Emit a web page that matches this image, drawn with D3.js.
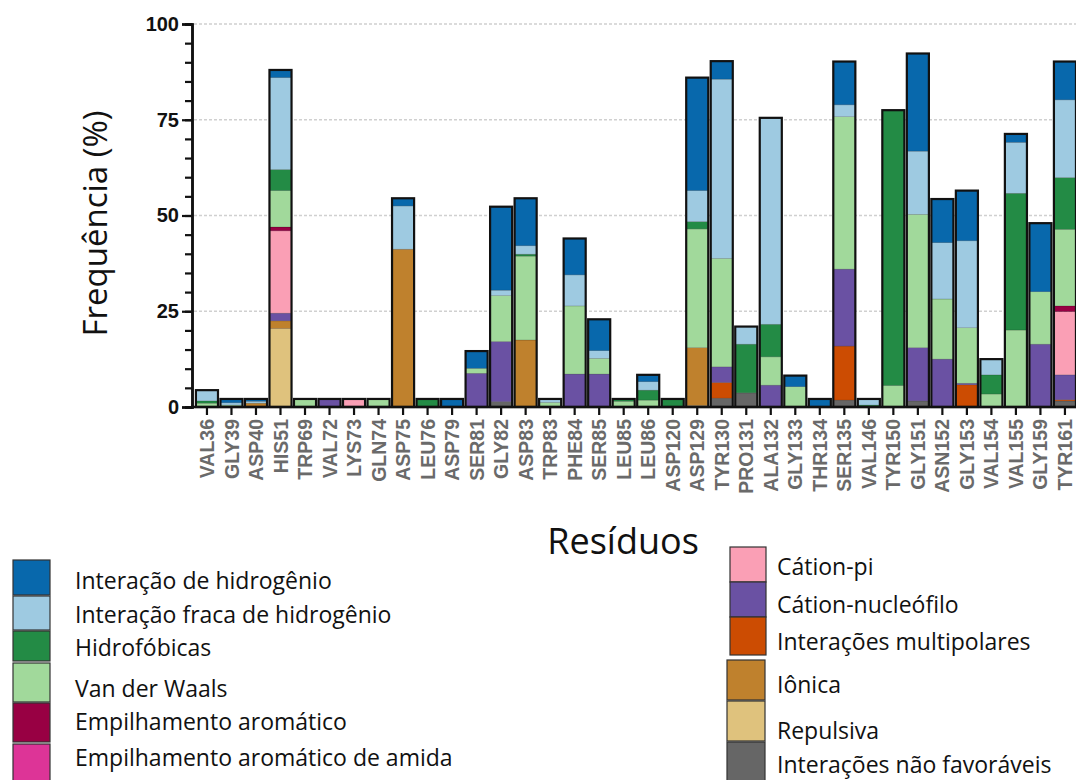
<!DOCTYPE html>
<html>
<head>
<meta charset="utf-8">
<script src="https://cdn.jsdelivr.net/npm/d3@7"></script>
<style>
  html, body { margin: 0; padding: 0; background: #fff; }
  svg { display: block; }
</style>
</head>
<body>
<svg id="chart" width="1076" height="780"></svg>
<script>
// Residues along the x axis
const residues = ["VAL36","GLY39","ASP40","HIS51","TRP69","VAL72","LYS73","GLN74","ASP75","LEU76",
  "ASP79","SER81","GLY82","ASP83","TRP83","PHE84","SER85","LEU85","LEU86","ASP120",
  "ASP129","TYR130","PRO131","ALA132","GLY133","THR134","SER135","VAL146","TYR150","GLY151",
  "ASN152","GLY153","VAL154","VAL155","GLY159","TYR161"];

// Interaction frequency (%) per residue, one array per interaction type
const hidrogenio       = [0,1.0,0.6,2.0,0,0,0,0,2.0,0,2.1,4.5,21.8,12.4,0,9.5,8.2,0,1.8,0,29.5,4.7,0,0,2.9,2.1,11.3,0,0,25.5,11.4,13.1,0,2.2,17.9,10.0];
const fracaHidrogenio  = [2.8,0.6,0.5,24.0,0,0,0,0,11.3,0,0,0,1.4,2.2,0.9,8.1,2.0,0,2.2,0,8.1,46.8,4.6,53.9,0,0,3.1,1.6,0,16.5,14.7,22.7,4.1,13.3,0,20.3];
const hidrofobicas     = [0.6,0,0,5.5,0,0,0,0,0,2.1,0,0,0,0.5,0,0,0,0.6,2.6,2.1,1.9,0,12.7,8.5,0,0,0,0.5,71.9,0,0,0,5.0,35.7,0,13.5];
const vanDerWaals      = [1.0,0.5,0,9.5,2.1,0,0,2.1,0,0,0,1.3,12.0,21.9,1.2,17.8,4.1,1.5,1.8,0,31.0,28.3,0,7.4,5.3,0,39.8,0,5.6,34.8,15.7,14.5,3.4,20.1,13.7,20.0];
const aromatico        = [0,0,0,1.0,0,0,0,0,0,0,0,0,0,0,0,0,0,0,0,0,0,0,0,0,0,0,0,0,0,0,0,0,0,0,0,1.5];
const aromaticoAmida   = [0,0,0,0,0,0,0,0,0,0,0,0,0,0,0,0,0,0,0,0,0,0,0,0,0,0,0,0,0,0,0,0,0,0,0,0];
const cationPi         = [0,0,0,21.5,0,0,2.1,0,0,0,0,0,0,0,0,0,0,0,0,0,0,0,0,0,0,0,0,0,0,0,0,0,0,0,0,16.5];
const cationNucleofilo = [0,0,0,2.0,0,2.1,0,0,0,0,0,8.8,15.7,0,0,8.6,8.6,0,0,0,0,4.1,0,5.7,0,0,20.1,0,0,13.9,12.5,0.4,0,0,16.4,6.5];
const multipolares     = [0,0,0,0,0,0,0,0,0,0,0,0,0,0,0,0,0,0,0,0,0,4.1,0,0,0,0,14.1,0,0,0,0,5.8,0,0,0,0.3];
const ionica           = [0,0,1.0,2.0,0,0,0,0,41.2,0,0,0,0,17.5,0,0,0,0,0,0,15.1,0,0,0,0,0,0,0,0,0,0,0,0,0,0,0];
const repulsiva        = [0,0,0,20.5,0,0,0,0,0,0,0,0,0,0,0,0,0,0,0,0,0.4,0,0,0,0,0,0,0,0,0,0,0,0,0,0,0];
const naoFavoraveis    = [0,0,0,0,0,0,0,0,0,0,0,0,1.4,0,0,0,0,0,0,0,0,2.3,3.7,0,0,0,1.8,0,0,1.6,0,0,0,0,0,1.6];

const yTicks = [0, 25, 50, 75, 100];

// Interaction types: legend text and colour, listed from the bottom of each stack upwards
const series = [
  { key: "naoFavoraveis",    label: "Interações não favoráveis",       color: "#666666", values: naoFavoraveis },
  { key: "repulsiva",        label: "Repulsiva",                       color: "#dfc27d", values: repulsiva },
  { key: "ionica",           label: "Iônica",                          color: "#bf812d", values: ionica },
  { key: "multipolares",     label: "Interações multipolares",         color: "#cc4c02", values: multipolares },
  { key: "cationNucleofilo", label: "Cátion-nucleófilo",               color: "#6a51a3", values: cationNucleofilo },
  { key: "cationPi",         label: "Cátion-pi",                       color: "#fa9fb5", values: cationPi },
  { key: "aromaticoAmida",   label: "Empilhamento aromático de amida", color: "#dd3497", values: aromaticoAmida },
  { key: "aromatico",        label: "Empilhamento aromático",          color: "#980043", values: aromatico },
  { key: "vanDerWaals",      label: "Van der Waals",                   color: "#a1d99b", values: vanDerWaals },
  { key: "hidrofobicas",     label: "Hidrofóbicas",                    color: "#238b45", values: hidrofobicas },
  { key: "fracaHidrogenio",  label: "Interação fraca de hidrogênio",   color: "#9ecae1", values: fracaHidrogenio },
  { key: "hidrogenio",       label: "Interação de hidrogênio",         color: "#0868ac", values: hidrogenio }
];

const rows = residues.map((r, i) => {
  const o = { residue: r };
  series.forEach(s => { o[s.key] = s.values[i]; });
  return o;
});

const svg = d3.select("#chart");

const x = d3.scaleBand()
  .domain(residues)
  .range([194.7, 1077.2])
  .paddingInner(0.1)
  .paddingOuter(0.05);

const y = d3.scaleLinear().domain([0, 100]).range([407, 24]);

const axisLeftX = 192;

// Dashed gridlines
svg.append("g")
  .selectAll("line")
  .data(yTicks.filter(d => d > 0))
  .join("line")
  .attr("x1", axisLeftX + 2).attr("x2", 1076)
  .attr("y1", d => y(d)).attr("y2", d => y(d))
  .attr("stroke", "#d0d0d0")
  .attr("stroke-width", 1.6)
  .attr("stroke-dasharray", "3,2");

// Stacked bars
const stack = d3.stack().keys(series.map(s => s.key));
const stacked = stack(rows);
const colorOf = Object.fromEntries(series.map(s => [s.key, s.color]));

svg.append("g")
  .selectAll("g")
  .data(stacked)
  .join("g")
  .attr("fill", d => colorOf[d.key])
  .selectAll("rect")
  .data(d => d.filter(p => p[1] - p[0] > 0))
  .join("rect")
  .attr("x", p => x(p.data.residue))
  .attr("width", x.bandwidth())
  .attr("y", p => y(p[1]))
  .attr("height", p => y(p[0]) - y(p[1]))
  .attr("stroke", "rgba(0,0,0,0.25)")
  .attr("stroke-width", 0.6);

// Black outline round each whole bar
const totals = rows.map(r => ({ residue: r.residue, total: d3.sum(series, s => r[s.key]) }));
svg.append("g")
  .selectAll("rect")
  .data(totals)
  .join("rect")
  .attr("x", d => x(d.residue))
  .attr("width", x.bandwidth())
  .attr("y", d => y(d.total))
  .attr("height", d => y(0) - y(d.total))
  .attr("fill", "none")
  .attr("stroke", "#111")
  .attr("stroke-width", 2.2);

// Y axis: major ticks with labels, minor ticks every 5
const yAxis = svg.append("g").attr("transform", `translate(${axisLeftX},0)`);
yAxis.call(d3.axisLeft(y).tickValues(d3.range(0, 101, 5)).tickSize(7).tickFormat(""));
yAxis.append("g").call(d3.axisLeft(y).tickValues(yTicks).tickSize(10).tickPadding(3).tickFormat(d3.format("d")));
yAxis.selectAll("path.domain").attr("stroke", "#111").attr("stroke-width", 2.5);
yAxis.selectAll("line").attr("stroke", "#111").attr("stroke-width", 2.2);
yAxis.selectAll("text")
  .attr("font-family", "Liberation Sans, Arial, sans-serif")
  .attr("font-weight", "bold")
  .attr("font-size", 20)
  .attr("fill", "#111");

// X axis
const xAxis = svg.append("g").attr("transform", `translate(0,${y(0)})`);
xAxis.call(d3.axisBottom(x).tickSize(8).tickSizeOuter(0));
xAxis.select("path.domain").remove();
xAxis.selectAll("line").attr("stroke", "#111").attr("stroke-width", 2.2);
xAxis.selectAll("text")
  .attr("transform", "rotate(-90)")
  .attr("x", -12)
  .attr("y", 0)
  .attr("dy", "0.36em")
  .attr("text-anchor", "end")
  .attr("font-family", "Liberation Sans, Arial, sans-serif")
  .attr("font-weight", "bold")
  .attr("font-size", 19.5)
  .attr("fill", "#6a6a6a");
svg.append("line")
  .attr("x1", axisLeftX - 1).attr("x2", 1076)
  .attr("y1", y(0)).attr("y2", y(0))
  .attr("stroke", "#111").attr("stroke-width", 2.5);

// Axis titles
svg.append("text")
  .attr("transform", `translate(107,${(y(0) + y(100)) / 2 + 8}) rotate(-90)`)
  .attr("text-anchor", "middle")
  .attr("font-family", "Open Sans, sans-serif")
  .attr("font-size", 33)
  .attr("fill", "#111")
  .text("Frequência (%)");

svg.append("text")
  .attr("x", 623).attr("y", 554)
  .attr("text-anchor", "middle")
  .attr("font-family", "Open Sans, sans-serif")
  .attr("font-size", 36)
  .attr("fill", "#111")
  .text("Resíduos");

// Legend, two columns
const legendLeft = [
  { key: "hidrogenio",      box: [13, 560, 37, 35], ty: 581 },
  { key: "fracaHidrogenio", box: [13, 596, 37, 34], ty: 615 },
  { key: "hidrofobicas",    box: [13, 631, 37, 30], ty: 648 },
  { key: "vanDerWaals",     box: [13, 663, 37, 39], ty: 689 },
  { key: "aromatico",       box: [13, 703, 37, 39], ty: 722 },
  { key: "aromaticoAmida",  box: [13, 744, 37, 40], ty: 758 }
];
const legendRight = [
  { key: "cationPi",         box: [730, 547, 36, 35], ty: 567 },
  { key: "cationNucleofilo", box: [730, 582, 36, 35], ty: 605 },
  { key: "multipolares",     box: [730, 617, 36, 38], ty: 642 },
  { key: "ionica",           box: [727, 660, 38, 40], ty: 685 },
  { key: "repulsiva",        box: [727, 701, 38, 40], ty: 731 },
  { key: "naoFavoraveis",    box: [727, 742, 38, 40], ty: 765 }
];
const seriesByKey = Object.fromEntries(series.map(s => [s.key, s]));

function drawLegend(items, textX) {
  const g = svg.append("g");
  const item = g.selectAll("g").data(items).join("g");
  item.append("rect")
    .attr("x", d => d.box[0]).attr("y", d => d.box[1])
    .attr("width", d => d.box[2]).attr("height", d => d.box[3])
    .attr("fill", d => seriesByKey[d.key].color)
    .attr("stroke", "#333").attr("stroke-width", 1.2);
  item.append("text")
    .attr("x", textX).attr("y", d => d.ty)
    .attr("dy", "0.35em")
    .attr("font-family", "Open Sans, sans-serif")
    .attr("font-size", 23)
    .attr("fill", "#111")
    .text(d => seriesByKey[d.key].label);
}
drawLegend(legendLeft, 75);
drawLegend(legendRight, 777);
</script>
</body>
</html>
